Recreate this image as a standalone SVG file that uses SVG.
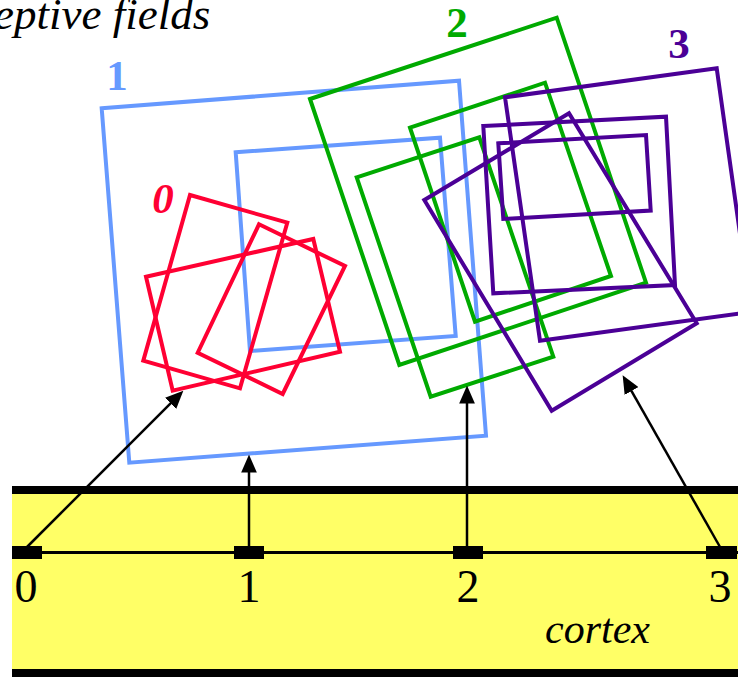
<svg xmlns="http://www.w3.org/2000/svg" width="738" height="678" viewBox="0 0 738 678">
<defs>
<style>
.rf{fill:none;stroke-width:4;stroke-linejoin:miter}
.blue{stroke:#6699FF}
.red{stroke:#FF0033}
.green{stroke:#00AA00}
.purple{stroke:#4B0096}
.lab{font-family:"Liberation Serif","Times New Roman",serif;font-weight:bold;font-size:43px;text-anchor:middle}
.num{font-family:"Liberation Serif","Times New Roman",serif;font-size:46px;text-anchor:middle;fill:#000}
.it{font-family:"Liberation Serif","Times New Roman",serif;font-style:italic;font-size:42px;fill:#000}
.arr{stroke:#000;stroke-width:2.5;fill:none;marker-end:url(#ah)}
.bar{fill:#000}
</style>
<marker id="ah" markerUnits="userSpaceOnUse" markerWidth="18" markerHeight="16" refX="4" refY="7" orient="auto" viewBox="0 0 16 14">
<path d="M0,0 L16,7 L0,14 z" fill="#000"/>
</marker>
</defs>
<rect width="738" height="678" fill="#fff"/>
<text class="it" x="-6" y="29" style="font-size:45px">eptive fields</text>

<g id="cortex">
<rect x="12" y="494" width="726" height="175" fill="#FFFF66"/>
<rect class="bar" x="12" y="486" width="726" height="8"/>
<rect class="bar" x="12" y="669" width="726" height="8"/>
<line x1="12" y1="552.5" x2="738" y2="552.5" stroke="#000" stroke-width="3"/>
<text class="it" x="545" y="643">cortex</text>
</g>

<g id="rf1">
<polygon class="rf blue" points="101.7,108.3 459,80.7 486,435.7 129.3,462.7"/>
<polygon class="rf blue" points="235.7,152.3 440,137.7 455.7,336 250,351"/>
<text class="lab" x="117" y="90" fill="#6699FF">1</text>
</g>

<g id="rf0">
<polygon class="rf red" points="190,195 287.3,222.7 240,388.3 143.3,360.7"/>
<polygon class="rf red" points="259,224.3 345,266 282.7,394 197.7,352.7"/>
<polygon class="rf red" points="146,276.7 313.3,239 340,351.7 172.7,390.7"/>
<text class="lab" x="163" y="213" fill="#FF0033" font-style="italic">0</text>
</g>

<g id="rf2">
<polygon class="rf green" points="310,99 556.7,17.7 646,282.7 399.3,365"/>
<polygon class="rf green" points="410,127.7 545,82.7 611,276 475,321.7"/>
<polygon class="rf green" points="356.7,177.3 479.3,137.3 553.3,356.7 430.7,396.7"/>
<text class="lab" x="457" y="37" fill="#00AA00">2</text>
</g>

<g id="rf3">
<polygon class="rf purple" points="505,97.3 716.7,68.3 751,312 540,340.7"/>
<polygon class="rf purple" points="483.3,126 666,116.7 675,285 493.3,293.3"/>
<polygon class="rf purple" points="498.3,143.3 646,135 650.7,210.5 503.3,219"/>
<polygon class="rf purple" points="424.3,200 569,113.3 696.7,323.3 551.7,410.7"/>
<text class="lab" x="679" y="58" fill="#4B0096">3</text>
</g>

<g id="connectors">
<line class="arr" x1="27" y1="547" x2="173.8" y2="400.2"/>
<line class="arr" x1="249" y1="547" x2="249" y2="468"/>
<line class="arr" x1="467" y1="547" x2="467" y2="399"/>
<line class="arr" x1="720" y1="547" x2="629.3" y2="387.1"/>
</g>

<g id="node0"><rect class="bar" x="12" y="546" width="30" height="13"/><text class="num" x="26" y="602">0</text></g>
<g id="node1"><rect class="bar" x="234" y="546" width="30" height="13"/><text class="num" x="249" y="602">1</text></g>
<g id="node2"><rect class="bar" x="453" y="546" width="30" height="13"/><text class="num" x="468" y="602">2</text></g>
<g id="node3"><rect class="bar" x="706" y="546" width="31" height="13"/><text class="num" x="720" y="602">3</text></g>
</svg>
